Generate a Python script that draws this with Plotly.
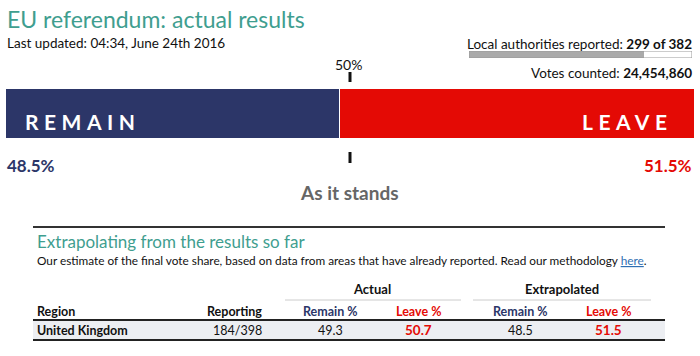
import plotly.graph_objects as go

# ---- data ----
sides = ["Remain", "Leave"]
shares = [48.5, 51.5]
side_labels = ["REMAIN", "LEAVE"]
authorities_reported = 299
authorities_total = 382
votes_counted = 24454860
updated = "04:34, June 24th 2016"

table_region = ["United Kingdom"]
table_reporting = ["184/398"]
actual_remain = [49.3]
actual_leave = [50.7]
extrap_remain = [48.5]
extrap_leave = [51.5]

NAVY = "#2c3668"
RED = "#e40a05"
TEAL = "#3f9e8f"
FONT = "Lato"

W, H = 700, 356
def py(y):  # pixel-from-top -> paper
    return 1 - y / H
def px(x):
    return x / W

fig = go.Figure()
colors = [NAVY, RED]
for s, v, c in zip(sides, shares, colors):
    fig.add_trace(go.Bar(
        x=[v], y=["UK"], orientation="h", name=s,
        marker=dict(color=c, line=dict(color="white", width=1.5)),
        hoverinfo="skip", showlegend=False,
    ))
# progress bar of local authorities
fig.add_trace(go.Bar(
    x=[authorities_reported], y=["LA"], orientation="h",
    xaxis="x2", yaxis="y2", marker=dict(color="#aaaaaa", line=dict(width=0)),
    hoverinfo="skip", showlegend=False, width=1,
))

fig.update_layout(
    width=W, height=H,
    margin=dict(l=0, r=0, t=0, b=0),
    paper_bgcolor="white", plot_bgcolor="white",
    barmode="stack", bargap=0,
    font=dict(family=FONT, color="#111111"),
    xaxis=dict(domain=[px(5), px(695)], range=[0, 100], visible=False, fixedrange=True),
    yaxis=dict(domain=[py(139), py(88)], visible=False, fixedrange=True),
    xaxis2=dict(domain=[px(469), px(692)], range=[0, authorities_total], visible=False,
                anchor="y2", fixedrange=True),
    yaxis2=dict(domain=[py(58), py(51)], visible=False, anchor="x2", fixedrange=True,
                range=[-0.5, 0.5]),
)

shapes = []
# progress bar outline
shapes.append(dict(type="rect", xref="x2", yref="y2", x0=0, x1=authorities_total,
                   y0=-0.5, y1=0.5, line=dict(color="#999999", width=1), fillcolor="rgba(0,0,0,0)"))
# 50% tick marks
for y0, y1 in [(72, 82), (152, 163)]:
    shapes.append(dict(type="line", xref="x", yref="paper", x0=50, x1=50,
                       y0=py(y0), y1=py(y1), line=dict(color="#111111", width=3)))
# table rules
shapes.append(dict(type="line", xref="paper", yref="paper", x0=px(33), x1=px(665),
                   y0=py(227), y1=py(227), line=dict(color="#333333", width=2)))
shapes.append(dict(type="line", xref="paper", yref="paper", x0=px(285), x1=px(461),
                   y0=py(300), y1=py(300), line=dict(color="#cccccc", width=1)))
shapes.append(dict(type="line", xref="paper", yref="paper", x0=px(473), x1=px(651),
                   y0=py(300), y1=py(300), line=dict(color="#cccccc", width=1)))
shapes.append(dict(type="rect", xref="paper", yref="paper", x0=px(33), x1=px(665),
                   y0=py(339), y1=py(321), fillcolor="#eceef2", line=dict(width=0), layer="below"))
shapes.append(dict(type="line", xref="paper", yref="paper", x0=px(33), x1=px(665),
                   y0=py(320), y1=py(320), line=dict(color="#222222", width=2)))
shapes.append(dict(type="line", xref="paper", yref="paper", x0=px(33), x1=px(665),
                   y0=py(340), y1=py(340), line=dict(color="#222222", width=2)))
fig.update_layout(shapes=shapes)

ann = []
def A(text, x, y, size, color="#111111", xanchor="left", bold=False, **kw):
    t = f"<b>{text}</b>" if bold else text
    ann.append(dict(text=t, x=px(x), y=py(y), xref="paper", yref="paper",
                    xanchor=xanchor, yanchor="middle", showarrow=False,
                    font=dict(family=FONT, size=size, color=color), **kw))

A("EU referendum: actual results", 5, 19, 23, TEAL)
A(f"Last updated: {updated}", 5, 43, 13.5)
A(f"Local authorities reported: <b>{authorities_reported} of {authorities_total}</b>", 694, 44, 13.5, xanchor="right")
A(f"Votes counted: <b>{votes_counted:,}</b>", 694, 73, 13.5, xanchor="right")
A("50%", 348, 64, 14, xanchor="center")

# bar labels
ann.append(dict(text=f'<b><span style="letter-spacing:5.5px">{side_labels[0]}</span></b>',
                x=px(23), y=py(121), xref="paper", yref="paper", xanchor="left", yanchor="middle",
                showarrow=False, font=dict(family=FONT, size=21, color="white")))
ann.append(dict(text=f'<b><span style="letter-spacing:5.5px">{side_labels[1]}</span></b>',
                x=px(675), y=py(121), xref="paper", yref="paper", xanchor="right", yanchor="middle",
                showarrow=False, font=dict(family=FONT, size=21, color="white")))
A(f"{shares[0]}%", 5, 166, 17, NAVY, bold=True)
A(f"{shares[1]}%", 694, 166, 17, RED, xanchor="right", bold=True)
A("As it stands", 349, 192, 19, "#666666", xanchor="center", bold=True)

A("Extrapolating from the results so far", 35, 241, 17, TEAL)
A('Our estimate of the final vote share, based on data from areas that have already reported. '
  'Read our methodology <a href="#"><span style="color:#2f6fb3;text-decoration:underline">here</span></a>.',
  35, 260, 11.8)

A("Actual", 372, 289, 13, bold=True, xanchor="center")
A("Extrapolated", 562, 289, 13, bold=True, xanchor="center")
A("Region", 35, 311, 12.5, bold=True)
A("Reporting", 264, 311, 12.5, bold=True, xanchor="right")
hdr_x = [330, 418, 520, 608]
hdr_t = ["Remain %", "Leave %", "Remain %", "Leave %"]
hdr_c = [NAVY, RED, NAVY, RED]
for x, t, c in zip(hdr_x, hdr_t, hdr_c):
    A(t, x, 311, 12.5, c, bold=True, xanchor="center")

for i in range(len(table_region)):
    A(table_region[i], 35, 330, 12.5, bold=True)
    A(table_reporting[i], 237, 330, 12.5, xanchor="center")
    A(f"{actual_remain[i]}", 330, 330, 12.5, xanchor="center")
    A(f"{actual_leave[i]}", 418, 330, 13.5, RED, bold=True, xanchor="center")
    A(f"{extrap_remain[i]}", 520, 330, 12.5, xanchor="center")
    A(f"{extrap_leave[i]}", 608, 330, 13.5, RED, bold=True, xanchor="center")

fig.update_layout(annotations=ann)
fig.write_html("out.html", config=dict(displayModeBar=False, staticPlot=True),
               post_script="document.body.style.margin='0px';document.body.style.overflow='hidden';")
